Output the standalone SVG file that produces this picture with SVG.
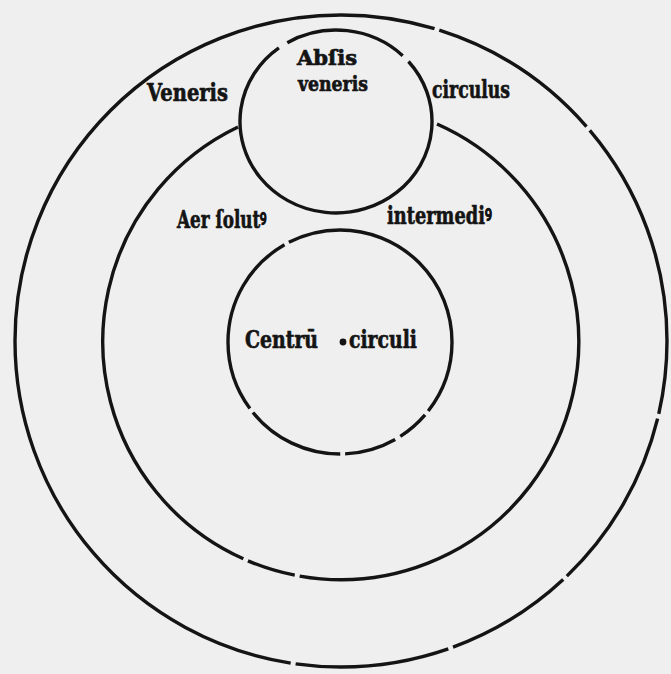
<svg xmlns="http://www.w3.org/2000/svg" width="671" height="674" viewBox="0 0 671 674">
  <style>
    .ring { fill: none; stroke: #141414; stroke-width: 3.4; stroke-linecap: butt; }
    .lbl { font-family: "DejaVu Serif", "Liberation Serif", serif; font-weight: bold; fill: #141414; stroke: #141414; stroke-width: 0.7; font-size: 25px; }
    .sm { font-size: 21px; }
  </style>
  <rect x="0" y="0" width="671" height="674" fill="#efefef"/>

  <g id="outer-circle">
    <circle class="ring" cx="341" cy="341" r="326" stroke-width="3.6" stroke-dasharray="73.5 5 184 5 130 5 155 5 1068 5 178 5 230 0"/>
  </g>

  <g id="middle-circle">
    <path class="ring" d="M 437,124 A 238 238 0 1 1 238,127" stroke-dasharray="689.5 5 49 5 700 0"/>
  </g>

  <g id="absis-circle">
    <path class="ring" d="M 287.3,42.7 A 96 91.5 0 0 1 402.7,55.7 M 408.5,61.5 A 96 91.5 0 1 1 278.9,47.9"/>
  </g>

  <g id="center-circle">
    <circle class="ring" cx="340" cy="342" r="112" stroke-dasharray="74.3 5 32.8 6 52.4 5 99.8 5 188.9 5 229.5 0"/>
    <circle cx="343" cy="342" r="3.4" fill="#141414"/>
  </g>

  <g id="labels">
    <text class="lbl sm" x="297" y="65" textLength="60" lengthAdjust="spacingAndGlyphs">Abſis</text>
    <text class="lbl sm" x="298" y="91" textLength="70" lengthAdjust="spacingAndGlyphs">veneris</text>
    <text class="lbl" x="147" y="101" textLength="81" lengthAdjust="spacingAndGlyphs">Veneris</text>
    <text class="lbl" x="432" y="98" textLength="78" lengthAdjust="spacingAndGlyphs">circulus</text>
    <text class="lbl" x="177" y="228" textLength="90" lengthAdjust="spacingAndGlyphs">Aer ſolutꝰ</text>
    <text class="lbl" x="387" y="224" textLength="105" lengthAdjust="spacingAndGlyphs">intermediꝰ</text>
    <text class="lbl" x="245" y="348" textLength="73" lengthAdjust="spacingAndGlyphs">Centrū</text>
    <text class="lbl" x="349" y="348" textLength="68" lengthAdjust="spacingAndGlyphs">circuli</text>
  </g>
</svg>
